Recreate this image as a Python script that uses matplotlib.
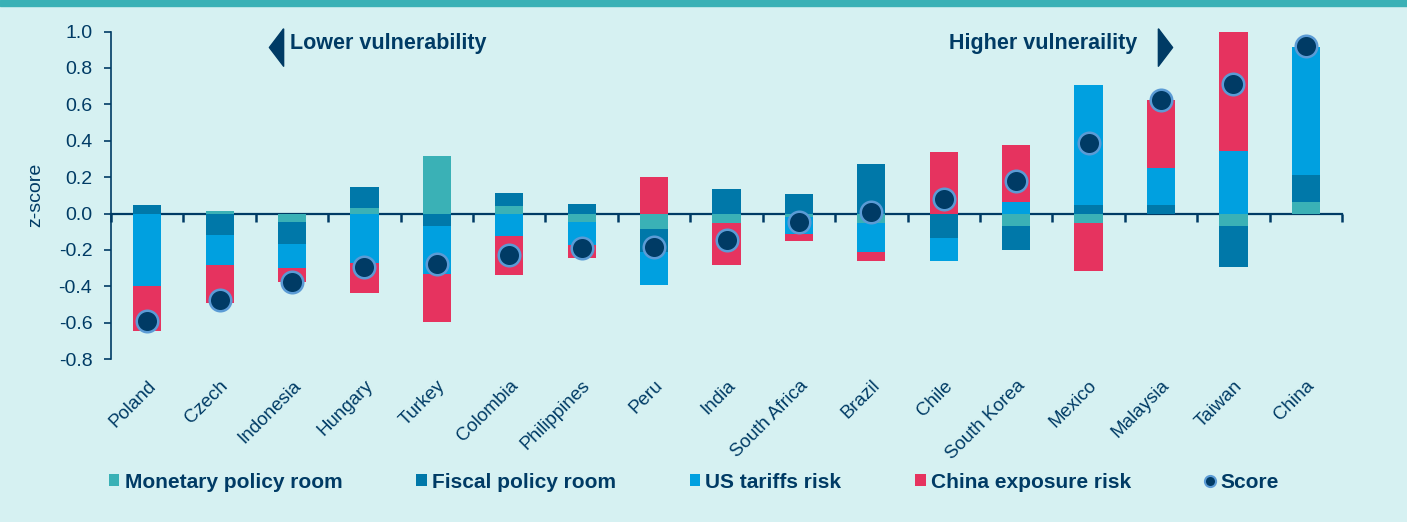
import numpy as np
import matplotlib.pyplot as plt
from matplotlib.patches import Patch, Rectangle
from matplotlib.lines import Line2D
from matplotlib.path import Path

plt.rcParams["font.family"] = ["Liberation Sans", "DejaVu Sans"]

# Data (z-scores)
countries = ["Poland", "Czech", "Indonesia", "Hungary", "Turkey", "Colombia",
             "Philippines", "Peru", "India", "South Africa", "Brazil", "Chile",
             "South Korea", "Mexico", "Malaysia", "Taiwan", "China"]
monetary = [0.0, 0.016, -0.046, 0.029, 0.317, 0.040, -0.046, -0.084, -0.051,
            -0.018, -0.053, 0.0, -0.070, -0.051, 0.0, -0.070, 0.062]
fiscal = [0.048, -0.119, -0.123, 0.117, -0.066, 0.075, 0.055, -0.125, 0.137,
          0.110, 0.271, -0.137, -0.130, 0.048, 0.048, -0.223, 0.150]
us_tariffs = [-0.400, -0.165, -0.130, -0.269, -0.267, -0.126, -0.126, -0.181, 0.0,
              -0.097, -0.161, -0.121, 0.062, 0.656, 0.205, 0.344, 0.703]
china_exp = [-0.243, -0.209, -0.075, -0.170, -0.262, -0.212, -0.070, 0.203, -0.233,
             -0.038, -0.046, 0.337, 0.315, -0.267, 0.370, 0.661, 0.0]
score = [-0.593, -0.476, -0.375, -0.293, -0.278, -0.225, -0.187, -0.185, -0.143,
         -0.044, 0.011, 0.079, 0.178, 0.386, 0.623, 0.712, 0.919]
y_ticks = [-0.8, -0.6, -0.4, -0.2, 0.0, 0.2, 0.4, 0.6, 0.8, 1.0]
y_labels = ["-0.8", "-0.6", "-0.4", "-0.2", "0.0", "0.2", "0.4", "0.6", "0.8", "1.0"]

series = [("Monetary policy room", monetary, "#3AB1B6"),
          ("Fiscal policy room", fiscal, "#0078A9"),
          ("US tariffs risk", us_tariffs, "#00A0E0"),
          ("China exposure risk", china_exp, "#E6335F")]

BG = "#D6F1F2"
NAVY = "#003B65"

fig = plt.figure(figsize=(14.07, 5.22), dpi=100, facecolor=BG)
ax = fig.add_axes([0.0789, 0.312, 0.8749, 0.6275], facecolor=BG)

x = np.arange(len(countries))
pos_base = np.zeros(len(countries))
neg_base = np.zeros(len(countries))
for name, vals, col in series:
    v = np.array(vals)
    bottoms = np.where(v >= 0, pos_base, neg_base)
    ax.bar(x, v, width=0.39, bottom=bottoms, color=col, linewidth=0, zorder=2)
    pos_base += np.where(v >= 0, v, 0)
    neg_base += np.where(v < 0, v, 0)

ax.plot(x, score, linestyle="none", marker="o", markersize=15.5,
        markerfacecolor=NAVY, markeredgecolor="#5B9BD5", markeredgewidth=1.8,
        zorder=4)

ax.set_xlim(-0.5, len(countries) - 0.5)
ax.set_ylim(-0.8, 1.0)
ax.set_yticks(y_ticks)
ax.set_yticklabels(y_labels)
ax.tick_params(axis="y", colors=NAVY, labelsize=14, length=5, width=1.2,
               pad=8.5, labelcolor=NAVY)
ax.set_ylabel("z-score", fontsize=14, color=NAVY, labelpad=10)

for s in ["top", "right", "bottom"]:
    ax.spines[s].set_visible(False)
ax.spines["left"].set_color(NAVY)
ax.spines["left"].set_linewidth(1.2)

# category labels below the plot
ax.set_xticks(x)
ax.set_xticklabels(countries, rotation=45, ha="right", rotation_mode="anchor",
                   fontsize=13.5, color=NAVY)
ax.tick_params(axis="x", length=0, pad=13)

# zero axis with ticks between categories
zero_ax = ax.secondary_xaxis(0, transform=ax.transData)
zero_ax.set_xticks(np.arange(-0.5, len(countries), 1.0))
zero_ax.set_xticklabels([])
zero_ax.tick_params(length=6, width=1.8, color=NAVY, direction="out")
zero_ax.spines["bottom"].set_color(NAVY)
zero_ax.spines["bottom"].set_linewidth(1.6)

# top band
fig.add_artist(Rectangle((0, 1 - 6 / 522), 1, 6 / 522, transform=fig.transFigure,
                         color="#3AB1B6", zorder=0))

# vulnerability annotations
tri_left = Path([(0.38, 1), (-0.38, 0), (0.38, -1), (0.38, 1)])
tri_right = Path([(-0.38, 1), (0.38, 0), (-0.38, -1), (-0.38, 1)])
fig.lines.append(Line2D([276 / 1407], [1 - 47 / 522], transform=fig.transFigure,
                        marker=tri_left, markersize=27, color=NAVY, linestyle="none"))
fig.lines.append(Line2D([1165 / 1407], [1 - 47 / 522], transform=fig.transFigure,
                        marker=tri_right, markersize=27, color=NAVY, linestyle="none"))
fig.text(290 / 1407, 1 - 44 / 522, "Lower vulnerability", fontsize=15.5,
         fontweight="bold", color=NAVY, va="center", ha="left")
fig.text(1137 / 1407, 1 - 44 / 522, "Higher vulneraility", fontsize=15.5,
         fontweight="bold", color=NAVY, va="center", ha="right")

# legend
handles = [Patch(facecolor=col, edgecolor="none", label=name) for name, _, col in series]
handles.append(Line2D([], [], linestyle="none", marker="o", markersize=8,
                      markerfacecolor=NAVY, markeredgecolor="#5B9BD5",
                      markeredgewidth=1.5, label="Score"))
leg = fig.legend(handles=handles, loc="center left",
                 bbox_to_anchor=(109 / 1407, 1 - 482 / 522),
                 ncol=5, frameon=False, borderpad=0, borderaxespad=0,
                 handlelength=0.5, handleheight=0.5, handletextpad=0.25,
                 columnspacing=3.55, prop={"weight": "bold", "size": 15})
for t in leg.get_texts():
    t.set_color(NAVY)

fig.savefig("out.png", dpi=100, facecolor=BG)
